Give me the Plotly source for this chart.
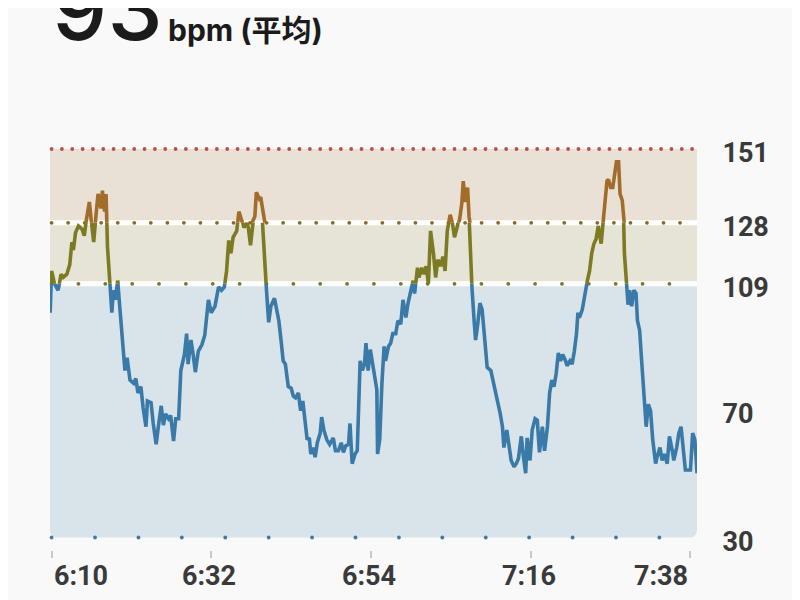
import numpy as np
import plotly.graph_objects as go

# heart rate samples, minutes after 6:10
minutes = [
    -0.2, 0.0, 0.4, 0.9, 1.3, 1.6, 2.1, 2.5, 2.8, 3.0, 3.3, 3.7, 4.2, 4.5, 4.8, 5.2, 5.5, 5.8,
    6.1, 6.4, 6.8, 7.0, 7.3, 7.5, 7.7, 8.0, 8.3, 8.5, 8.8, 9.1, 9.4, 9.8, 10.1, 10.4, 10.8,
    11.3, 11.6, 11.9, 12.3, 12.6, 13.0, 13.2, 13.7, 14.0, 14.4, 14.7, 15.1, 15.4, 15.7, 16.1,
    16.4, 16.8, 17.1, 17.5, 17.8, 18.3, 18.6, 18.8, 19.2, 19.5, 19.8, 20.2, 20.7, 21.1, 21.6,
    22.0, 22.5, 23.0, 23.4, 23.8, 24.1, 24.4, 24.7, 25.0, 25.5, 25.8, 26.2, 26.5, 26.9, 27.1,
    27.4, 27.7, 28.0, 28.2, 28.6, 28.8, 29.0, 29.3, 29.6, 29.9, 30.2, 30.7, 31.0, 31.3, 31.6,
    31.9, 32.2, 32.6, 33.0, 33.3, 33.6, 34.0, 34.3, 34.6, 34.9, 35.2, 35.5, 35.7, 36.0, 36.3,
    36.6, 37.0, 37.2, 37.5, 37.9, 38.3, 38.8, 39.1, 39.5, 39.9, 40.2, 40.5, 40.9, 41.1, 41.4,
    41.8, 42.1, 42.5, 42.8, 43.1, 43.3, 43.6, 43.9, 44.3, 44.5, 44.8, 44.9, 45.2, 45.5, 45.8,
    46.0, 46.4, 46.7, 47.0, 47.4, 47.7, 48.1, 48.4, 48.8, 49.1, 49.5, 49.8, 50.0, 50.4, 50.6,
    51.0, 51.3, 51.6, 51.9, 52.2, 52.6, 52.9, 53.2, 53.6, 53.9, 54.2, 54.5, 54.9, 55.2, 55.5,
    55.9, 56.2, 56.5, 56.7, 57.0, 57.3, 57.5, 57.7, 57.9, 58.2, 58.4, 58.7, 59.0, 59.3, 59.7,
    60.0, 60.5, 60.8, 61.2, 61.5, 61.8, 62.1, 62.3, 62.7, 63.0, 63.3, 63.7, 64.0, 64.3, 64.7,
    65.0, 65.3, 65.5, 65.9, 66.2, 66.6, 66.9, 67.2, 67.6, 67.9, 68.3, 68.6, 68.9, 69.2, 69.5,
    69.8, 70.1, 70.4, 70.8, 71.0, 71.4, 71.7, 72.0, 72.3, 72.5, 72.7, 73.1, 73.3, 73.6, 73.8,
    74.1, 74.4, 74.7, 75.0, 75.3, 75.5, 75.7, 76.0, 76.2, 76.5, 76.7, 77.0, 77.3, 77.6, 77.8,
    78.1, 78.3, 78.6, 78.8, 78.9, 79.2, 79.4, 79.6, 79.9, 80.2, 80.5, 80.7, 81.0, 81.2, 81.6,
    81.9, 82.2, 82.5, 82.8, 83.2, 83.4, 83.8, 84.1, 84.4, 84.8, 85.1, 85.5, 85.7, 86.1, 86.4,
    86.7, 87.0, 87.3, 87.7, 88.0, 88.3, 88.6, 88.8, 88.9,
]
bpm = [
    100, 113, 109, 107, 112, 111, 112, 115, 122, 119.5, 125, 127, 126, 124, 129, 134.5, 128, 122,
    130, 137, 132.5, 138, 131.5, 137, 120.5, 111, 100, 107, 104, 110, 102, 91.5, 82, 86, 79,
    78, 79.5, 75, 77, 70.5, 64.5, 72.5, 72, 65.5, 59, 64.5, 71, 65, 68.5, 67,
    68, 60, 67, 67, 82, 87, 93.5, 84, 91.5, 87, 81.5, 88, 90, 93, 104,
    100, 102, 108, 107, 108, 113, 122.5, 118.5, 123.5, 125.5, 131.5, 129, 126.5, 128, 126.5,
    121, 128.5, 130, 137.5, 135.5, 136, 130, 116.5, 107, 97, 102, 104.5, 101, 97.5, 91.5,
    85, 84, 77, 76.5, 74, 73.5, 75, 69.5, 72.5, 66.5, 60.5, 61, 56, 58, 55,
    59.5, 62.5, 67.5, 63.5, 60.5, 59, 61, 57, 57, 59.5, 56.5, 58.5, 59, 65.5, 53,
    56, 57, 85, 82, 84, 90.5, 82, 88.5, 83, 81, 76, 56, 60.5, 78, 89.5,
    85, 89.5, 90.5, 93.5, 93.5, 97.5, 96.5, 104, 98.5, 103, 107, 110, 106, 114, 111,
    114, 112, 114.5, 109, 125.5, 118.5, 111, 116.5, 114.5, 117.5, 113, 125.5, 130.5, 128, 123.5,
    127, 129, 134, 141, 134.5, 139, 130, 118.5, 108, 97.5, 91.5, 96.5, 103, 101, 91.5,
    83, 82, 79, 75, 71.5, 68.5, 64.5, 58, 63.5, 58, 54, 52, 53, 54.5, 61.5,
    55, 50, 61, 54, 63.5, 67, 66.5, 56.5, 64.5, 57, 64.5, 75, 79, 77, 81,
    87.5, 85, 87, 85, 83.5, 85, 84, 88, 93.5, 100, 98.5, 101, 104, 108, 110,
    113, 118.5, 121.5, 123, 127, 123.5, 121.5, 129, 134, 141, 141.5, 139, 139, 144.5, 147,
    147, 137, 135, 128, 118.5, 109, 102.5, 107, 102, 107, 106, 97.5, 94.5, 87.5, 75,
    64.5, 71.5, 69.5, 60.5, 53, 55, 58, 54, 56, 53, 61.5, 57, 54, 58, 62.5,
    64.5, 57, 51, 51, 51, 62.5, 60.5, 54, 50,
]

zone_levels = [30, 109, 128, 151]
right_ticks = [30, 70, 109, 128, 151]
tick_minutes = [0, 22, 44, 66, 88]
tick_labels = ["6:10", "6:32", "6:54", "7:16", "7:38"]
avg_bpm = 93

X_LO, X_HI = -0.22, 88.9
Y_LO, Y_HI = 26.1, 153.8

BLUE, OLIVE, BROWN = "#3a7aa8", "#7d7a24", "#a26c2b"
DARK = "#3a3a3a"
LABEL_FONT = dict(family="Roboto", size=27, color=DARK, weight=700)


def frac(v):
    return (v - Y_LO) / (Y_HI - Y_LO)


fig = go.Figure()

# dotted zone borders
dot_rows = [(151, 1.423, "#b8504a"), (128, 2.278, "#86692d"),
            (109, 3.70, "#7a7528"), (30, 5.98, "#3b7ba8")]
for level, step, col in dot_rows:
    xs = np.arange(0, X_HI - 0.3, step)
    fig.add_trace(go.Scatter(x=xs, y=[level] * len(xs), mode="markers",
                             marker=dict(size=3.8, color=col), cliponaxis=False,
                             hoverinfo="skip", showlegend=False))

# the same heart rate line, clipped to each zone with its colour
for axis, col in [("y2", BLUE), ("y3", OLIVE), ("y4", BROWN)]:
    fig.add_trace(go.Scatter(x=minutes, y=bpm, yaxis=axis, mode="lines",
                             line=dict(color=col, width=3.6),
                             hoverinfo="skip", showlegend=False))

# zone backgrounds
rx, ry = 0.0125, 2.5
lo, z1, z2, z3 = zone_levels
blue_path = (f"M 0,{z1} L 1,{z1} L 1,{lo + ry} Q 1,{lo} {1 - rx},{lo} "
             f"L {rx},{lo} Q 0,{lo} 0,{lo + ry} Z")
shapes = [
    dict(type="path", path=blue_path, xref="paper", yref="y",
         fillcolor="#d9e4ea", line=dict(width=0), layer="below"),
    dict(type="rect", x0=0, x1=1, y0=z1, y1=z2, xref="paper", yref="y",
         fillcolor="#e5e4d6", line=dict(width=0), layer="below"),
    dict(type="rect", x0=0, x1=1, y0=z2, y1=z3, xref="paper", yref="y",
         fillcolor="#e9e1d6", line=dict(width=0), layer="below"),
]
for lv in (z1, z2):
    shapes.append(dict(type="line", x0=0, x1=1, y0=lv, y1=lv, xref="paper", yref="y",
                       line=dict(color="white", width=5), layer="below"))

# time labels: first one hangs right of its tick, last one left of it
annotations = []
for i, (tv, tt) in enumerate(zip(tick_minutes, tick_labels)):
    anchor = "left" if i == 0 else ("right" if i == len(tick_labels) - 1 else "center")
    annotations.append(dict(text=tt, x=tv, xref="x", y=0, yref="paper",
                            xanchor=anchor, yanchor="middle", yshift=-26,
                            xshift=-2 if anchor == "center" else 0,
                            showarrow=False, font=LABEL_FONT))
annotations += [
    dict(text=str(avg_bpm), xref="paper", yref="paper", x=0, y=1.322,
         xanchor="left", yanchor="middle", showarrow=False,
         font=dict(family="Inter", size=88, color="#1b1b1b", weight=500)),
    dict(text="bpm (平均)", xref="paper", yref="paper", x=0.18, y=1.269,
         xanchor="left", yanchor="middle", showarrow=False,
         font=dict(family="Inter, Noto Sans CJK SC", size=30, color="#1b1b1b", weight=700)),
]

fig.update_layout(
    width=792, height=592,
    margin=dict(l=42, r=102.5, t=132, b=50),
    paper_bgcolor="#f9f9f9", plot_bgcolor="rgba(0,0,0,0)",
    shapes=shapes,
    annotations=annotations,
    xaxis=dict(range=[X_LO, X_HI], anchor="y", tickvals=tick_minutes,
               showticklabels=False, ticks="outside", ticklen=7, tickwidth=2,
               tickcolor="#c8c8c8", showgrid=False, zeroline=False, showline=False),
    yaxis=dict(range=[Y_LO, Y_HI], side="right", anchor="x", tickvals=right_ticks,
               showgrid=False, zeroline=False, showline=False,
               ticks="outside", ticklen=19, tickcolor="rgba(0,0,0,0)",
               ticklabelshift=4, tickfont=LABEL_FONT),
    yaxis2=dict(range=[Y_LO, z1], domain=[0, frac(z1)], anchor="x", visible=False),
    yaxis3=dict(range=[z1, z2], domain=[frac(z1), frac(z2)], anchor="x", visible=False),
    yaxis4=dict(range=[z2, Y_HI], domain=[frac(z2), 1], anchor="x", visible=False),
)

fig.write_html("out.html")
